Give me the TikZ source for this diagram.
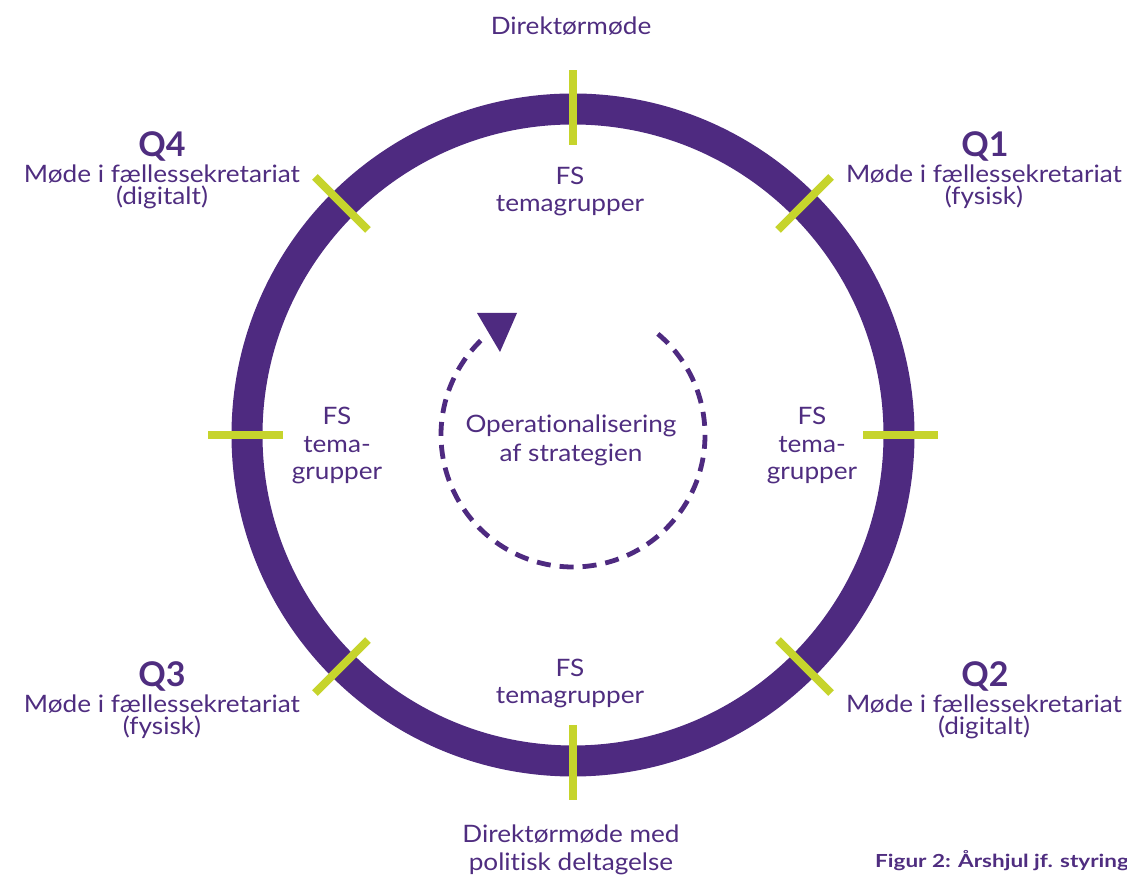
\documentclass[tikz,border=0pt]{standalone}
\usepackage{fontspec}
\setmainfont{Lato}[Ligatures=NoCommon]
\newfontfamily\widefont{Lato}[FakeStretch=1.09, Ligatures=NoCommon]
\newfontfamily\capfont{Lato}[FakeStretch=1.25, Ligatures=NoCommon]
\definecolor{wheel}{HTML}{4E2A80}
\definecolor{ink}{HTML}{4F2D80}
\definecolor{lime}{HTML}{C6D42C}
\begin{document}
\begin{tikzpicture}[x=1pt,y=1pt,
  txt/.style={text=ink, font=\widefont\fontsize{24}{26}\selectfont, anchor=base, inner sep=0pt},
  qlab/.style={text=ink, font=\fontsize{34}{36}\selectfont\bfseries, anchor=base, inner sep=0pt},
  capt/.style={text=ink, font=\capfont\fontsize{18}{20}\selectfont\bfseries, anchor=base west, inner sep=0pt},
  tickmark/.style={lime, line width=8pt},
  dashring/.style={wheel, line width=4.8pt, dash pattern=on 14pt off 9pt}]
\clip (0,0) rectangle (1127,877);
\useasboundingbox (0,0) rectangle (1127,877);
\coordinate (C) at (573,442);
% outer wheel
\draw[wheel, line width=31pt] (C) circle[radius=326];
% tick marks
\foreach \a in {0,45,...,315}
  \draw[tickmark, shift={(C)}] (\a:290) -- (\a:365);
% inner dashed cycle
\draw[dashring, shift={(C)}] (50:132) arc[start angle=50, end angle=-226, radius=132];
\coordinate (t1) at (477,564);
\coordinate (t2) at (517,564);
\coordinate (t3) at (500,525);
\fill[wheel] (t1) -- (t2) -- (t3) -- cycle;
% texts
\node[txt] (dir) at (571,842) {Direktørmøde};
\node[qlab] (q4) at (162,720) {Q4};
\node[txt] (q4a) at (162,694) {Møde i fællessekretariat};
\node[txt] (q4b) at (162,672) {(digitalt)};
\node[qlab] (q1) at (985,720) {Q1};
\node[txt] (q1a) at (984,694) {Møde i fællessekretariat};
\node[txt] (q1b) at (984,672) {(fysisk)};
\node[qlab] (q3) at (162,190) {Q3};
\node[txt] (q3a) at (162,164) {Møde i fællessekretariat};
\node[txt] (q3b) at (162,142) {(fysisk)};
\node[qlab] (q2) at (985,190) {Q2};
\node[txt] (q2a) at (984,164) {Møde i fællessekretariat};
\node[txt] (q2b) at (984,142) {(digitalt)};
\node[txt] (fst1) at (570,692) {FS};
\node[txt] (fst2) at (570,665) {temagrupper};
\node[txt] (fsb1) at (570,200) {FS};
\node[txt] (fsb2) at (570,173) {temagrupper};
\node[txt] (fsr1) at (812,452) {FS};
\node[txt] (fsr2) at (812,424) {tema-};
\node[txt] (fsr3) at (812,397) {grupper};
\node[txt] (fsl1) at (337,452) {FS};
\node[txt] (fsl2) at (337,424) {tema-};
\node[txt] (fsl3) at (337,397) {grupper};
\node[txt] (op1) at (571,444) {Operationalisering};
\node[txt] (op2) at (571,415) {af strategien};
\node[txt] (dm1) at (571,34) {Direktørmøde med};
\node[txt] (dm2) at (571,6) {politisk deltagelse};
\node[capt] (cap) at (875,9) {Figur 2: Årshjul jf. styring};
\end{tikzpicture}
\end{document}
